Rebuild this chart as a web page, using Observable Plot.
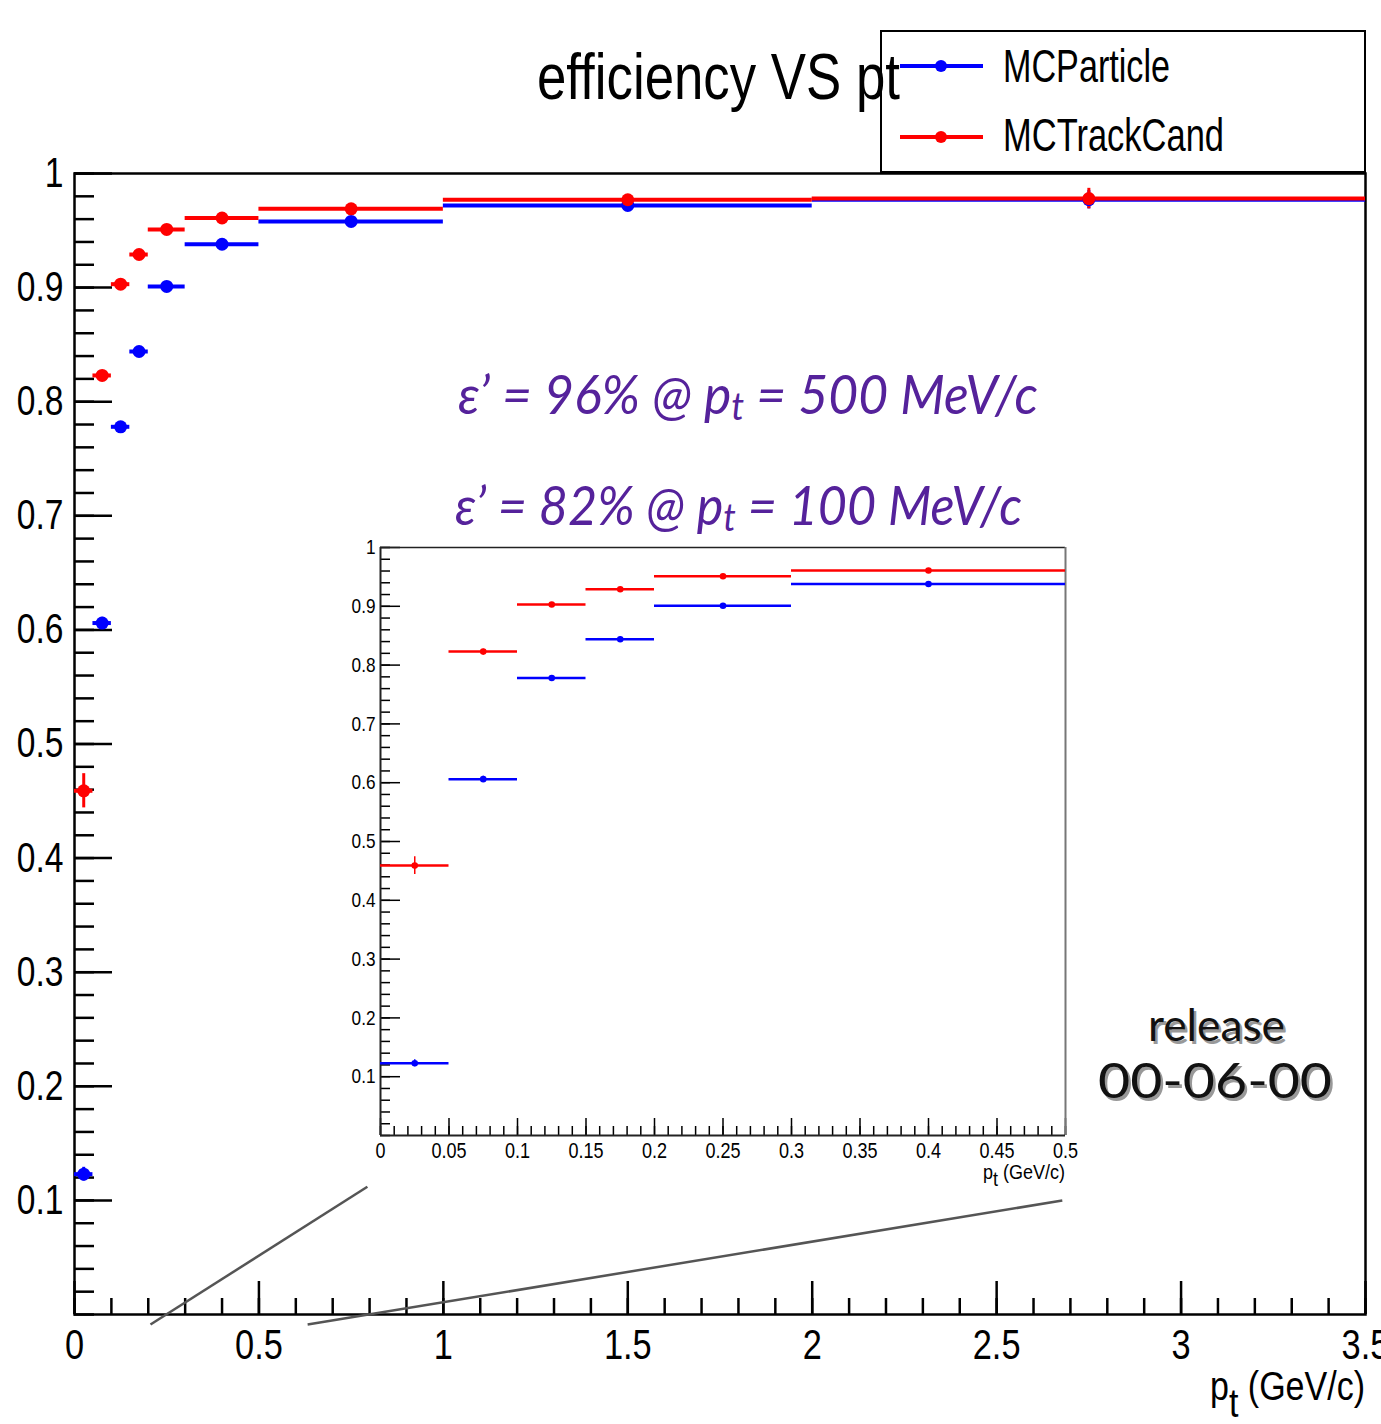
<!DOCTYPE html>
<html><head><meta charset="utf-8">
<script src="https://cdn.jsdelivr.net/npm/d3@7"></script>
<script src="https://cdn.jsdelivr.net/npm/@observablehq/plot@0.6"></script>
<style>
html,body{margin:0;padding:0;background:#fff;}
#wrap{position:relative;width:1381px;height:1424px;overflow:hidden;background:#fff;}
#main,#inset,#overlay{position:absolute;}
#main{left:0;top:0;width:1381px;height:1424px;}
#inset{left:340px;top:537px;width:735px;height:658px;}
#overlay{left:0;top:0;pointer-events:none;}
</style></head><body>
<div id="wrap"><div id="main"></div><div id="inset"></div><svg id="overlay" width="1381" height="1424"></svg></div>
<script>
// ---- data ----
const binLow  = [0, 0.05, 0.1, 0.15, 0.2, 0.3, 0.5, 1, 2];
const binHigh = [0.05, 0.1, 0.15, 0.2, 0.3, 0.5, 1, 2, 3.5];
const effMCParticle  = [0.123, 0.606, 0.778, 0.844, 0.901, 0.938, 0.958, 0.972, 0.977];
const errMCParticle  = [0.006, 0.005, 0.004, 0.004, 0.003, 0.003, 0.002, 0.003, 0.008];
const effMCTrackCand = [0.459, 0.823, 0.903, 0.929, 0.951, 0.961, 0.969, 0.977, 0.978];
const errMCTrackCand = [0.015, 0.004, 0.003, 0.003, 0.003, 0.002, 0.002, 0.003, 0.009];
const seriesNames  = ["MCParticle", "MCTrackCand"];
const seriesColors = ["#0000ff", "#ff0000"];
const mainXTicks  = [0, 0.5, 1, 1.5, 2, 2.5, 3, 3.5];
const mainXLabels = ["0", "0.5", "1", "1.5", "2", "2.5", "3", "3.5"];
const mainYTicks  = [0.1, 0.2, 0.3, 0.4, 0.5, 0.6, 0.7, 0.8, 0.9, 1];
const mainYLabels = ["0.1", "0.2", "0.3", "0.4", "0.5", "0.6", "0.7", "0.8", "0.9", "1"];
const insetXTicks  = [0, 0.05, 0.1, 0.15, 0.2, 0.25, 0.3, 0.35, 0.4, 0.45, 0.5];
const insetXLabels = ["0", "0.05", "0.1", "0.15", "0.2", "0.25", "0.3", "0.35", "0.4", "0.45", "0.5"];
const insetYTicks  = [0.1, 0.2, 0.3, 0.4, 0.5, 0.6, 0.7, 0.8, 0.9, 1];
const insetYLabels = ["0.1", "0.2", "0.3", "0.4", "0.5", "0.6", "0.7", "0.8", "0.9", "1"];
// zoom indicator lines (main-plot data coordinates)
const zoomX1 = [0.206, 0.632];
const zoomY1 = [-0.0088, -0.0088];
const zoomX2 = [0.794, 2.678];
const zoomY2 = [0.112, 0.0999];
const titleText = "efficiency VS pt";
const note1 = ["ε’ = 96% @ p", "t", " = 500 MeV/c"];
const note2 = ["ε’ = 82% @ p", "t", " = 100 MeV/c"];
const releaseText = ["release", "00-06-00"];

// ---- tables ----
const rows = [];
seriesNames.forEach((s, si) => binLow.forEach((lo, i) => rows.push({
  series: s, lo, hi: binHigh[i], mid: (lo + binHigh[i]) / 2,
  eff: si ? effMCTrackCand[i] : effMCParticle[i],
  err: si ? errMCTrackCand[i] : errMCParticle[i]
})));
const insetRows = rows.filter(d => d.hi <= 0.5);
const zoomLines = zoomX1.map((x, i) => ({x1: x, y1: zoomY1[i], x2: zoomX2[i], y2: zoomY2[i]}));
const minor = (a, b, s) => d3.range(Math.round((b - a) / s) + 1).map(i => +(a + i * s).toFixed(4));
const lab = (ticks, labels) => d => labels[ticks.findIndex(t => Math.abs(t - d) < 1e-9)];

const axisFont = "'Liberation Sans Narrow','Arial Narrow','Liberation Sans',Arial,sans-serif";

function squeeze(svg, f) {
  svg.querySelectorAll("text").forEach(t => {
    const L = t.getComputedTextLength();
    if (L > 0) { t.setAttribute("textLength", (L * f).toFixed(1)); t.setAttribute("lengthAdjust", "spacingAndGlyphs"); }
  });
}

const main = Plot.plot({
  width: 1381, height: 1424,
  marginTop: 173, marginRight: 16, marginBottom: 110, marginLeft: 74,
  x: {domain: [0, 3.5]}, y: {domain: [0, 1]},
  color: {domain: seriesNames, range: seriesColors},
  style: {background: "transparent", fontFamily: axisFont, color: "black", overflow: "visible"},
  marks: [
    Plot.axisY(minor(0, 1, 0.02), {tickSize: -20, fill: "none", strokeWidth: 2.5, label: null}),
    Plot.axisY(mainYTicks, {tickSize: -38, fill: "none", strokeWidth: 2.5, label: null}),
    Plot.axisY(mainYTicks, {tickSize: 0, tickPadding: 11, fontSize: 42, tickFormat: lab(mainYTicks, mainYLabels), label: null}),
    Plot.axisX(minor(0, 3.5, 0.1), {tickSize: -16, fill: "none", strokeWidth: 2.5, label: null}),
    Plot.axisX(mainXTicks, {tickSize: -33, fill: "none", strokeWidth: 2.5, label: null}),
    Plot.axisX(mainXTicks, {tickSize: 0, tickPadding: 14, fontSize: 43, tickFormat: lab(mainXTicks, mainXLabels), label: null}),
    Plot.frame({stroke: "black", strokeWidth: 2.5}),
    Plot.link(zoomLines, {x1: "x1", y1: "y1", x2: "x2", y2: "y2", stroke: "#555", strokeWidth: 2.5}),
    Plot.ruleY(rows, {y: "eff", x1: "lo", x2: "hi", stroke: "series", strokeWidth: 4}),
    Plot.ruleX(rows, {x: "mid", y1: d => d.eff - d.err, y2: d => d.eff + d.err, stroke: "series", strokeWidth: 3}),
    Plot.dot(rows, {x: "mid", y: "eff", fill: "series", r: 6.5})
  ]
});
document.getElementById("main").append(main);
squeeze(main, 0.8);

const inset = Plot.plot({
  width: 735, height: 658,
  marginTop: 10, marginRight: 10, marginBottom: 60, marginLeft: 40,
  x: {domain: [0, 0.5]}, y: {domain: [0, 1]},
  color: {domain: seriesNames, range: seriesColors},
  style: {background: "transparent", fontFamily: axisFont, color: "black", overflow: "visible"},
  marks: [
    Plot.axisY(minor(0, 1, 0.02), {tickSize: -10, fill: "none", strokeWidth: 1.5, label: null}),
    Plot.axisY(insetYTicks, {tickSize: -20, fill: "none", strokeWidth: 1.5, label: null}),
    Plot.axisY(insetYTicks, {tickSize: 0, tickPadding: 5, fontSize: 21, tickFormat: lab(insetYTicks, insetYLabels), label: null}),
    Plot.axisX(minor(0, 0.5, 0.01), {tickSize: -9, fill: "none", strokeWidth: 1.5, label: null}),
    Plot.axisX(insetXTicks, {tickSize: -17, fill: "none", strokeWidth: 1.5, label: null}),
    Plot.axisX(insetXTicks, {tickSize: 0, tickPadding: 7, fontSize: 22, tickFormat: lab(insetXTicks, insetXLabels), label: null}),
    Plot.ruleY([1], {stroke: "#222", strokeWidth: 1.5}),
    Plot.ruleX([0.5], {stroke: "#777", strokeWidth: 2}),
    Plot.ruleX([0], {stroke: "#222", strokeWidth: 2}),
    Plot.ruleY([0], {stroke: "#222", strokeWidth: 2}),
    Plot.ruleY(insetRows, {y: "eff", x1: "lo", x2: "hi", stroke: "series", strokeWidth: 2.5}),
    Plot.ruleX(insetRows, {x: "mid", y1: d => d.eff - d.err, y2: d => d.eff + d.err, stroke: "series", strokeWidth: 1.5}),
    Plot.dot(insetRows, {x: "mid", y: "eff", fill: "series", r: 3.3})
  ]
});
document.getElementById("inset").append(inset);
squeeze(inset, 0.82);

// ---- overlay: title, legend, annotations ----
const ov = d3.select("#overlay");
ov.append("text").attr("x", 537).attr("y", 99).attr("font-family", axisFont).attr("font-size", 65)
  .attr("textLength", 363).attr("lengthAdjust", "spacingAndGlyphs").text(titleText);

ov.append("rect").attr("x", 881).attr("y", 31).attr("width", 484).attr("height", 141)
  .attr("fill", "none").attr("stroke", "black").attr("stroke-width", 2);
const legY = [66, 137], legBase = [82, 151], legLen = [167, 221];
seriesNames.forEach((s, i) => {
  ov.append("line").attr("x1", 900).attr("x2", 983).attr("y1", legY[i]).attr("y2", legY[i])
    .attr("stroke", seriesColors[i]).attr("stroke-width", 4);
  ov.append("circle").attr("cx", 941).attr("cy", legY[i]).attr("r", 6).attr("fill", seriesColors[i]);
  ov.append("text").attr("x", 1003).attr("y", legBase[i]).attr("font-family", axisFont).attr("font-size", 47)
    .attr("textLength", legLen[i]).attr("lengthAdjust", "spacingAndGlyphs").text(s);
});

const noteFont = "Lato,'Open Sans',sans-serif";
[[note1, 458, 414, 580], [note2, 455, 525, 567]].forEach(([parts, x, y, L]) => {
  const t = ov.append("text").attr("x", x).attr("y", y).attr("font-family", noteFont)
    .attr("font-style", "italic").attr("font-size", 54).attr("fill", "#55229b")
    .attr("textLength", L).attr("lengthAdjust", "spacingAndGlyphs");
  t.append("tspan").text(parts[0]);
  t.append("tspan").attr("dy", 6).attr("font-size", 38).text(parts[1]);
  t.append("tspan").attr("dy", -6).text(parts[2]);
});

// release label with drop shadow
[[releaseText[0], 1148, 1041, 44, 137], [releaseText[1], 1098, 1098, 48, 234]].forEach(([s, x, y, fs, L]) => {
  ov.append("text").attr("x", x + 2.5).attr("y", y + 2.5).attr("font-family", noteFont).attr("font-size", fs)
    .attr("fill", "#999").attr("textLength", L).attr("lengthAdjust", "spacingAndGlyphs").text(s);
  ov.append("text").attr("x", x).attr("y", y).attr("font-family", noteFont).attr("font-size", fs)
    .attr("fill", "#111").attr("textLength", L).attr("lengthAdjust", "spacingAndGlyphs").text(s);
});

// axis titles
function axisTitle(x, y, fs, L, dy) {
  const t = ov.append("text").attr("x", x).attr("y", y).attr("font-family", axisFont).attr("font-size", fs)
    .attr("textLength", L).attr("lengthAdjust", "spacingAndGlyphs");
  t.append("tspan").text("p");
  t.append("tspan").attr("dy", dy).text("t");
  t.append("tspan").attr("dy", -dy).text(" (GeV/c)");
}
axisTitle(1210, 1400, 40, 155, 17);
axisTitle(983, 1179, 20, 82, 7);
</script>
</body></html>
